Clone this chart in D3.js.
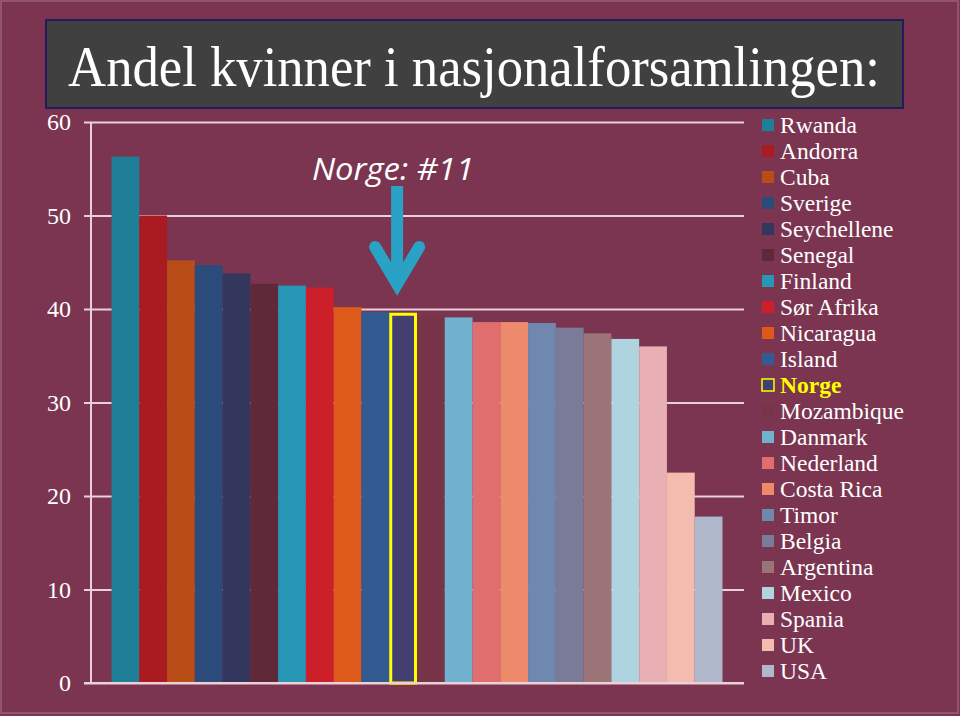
<!DOCTYPE html>
<html>
<head>
<meta charset="utf-8">
<script src="https://cdn.jsdelivr.net/npm/d3@7"></script>
<style>
  html, body { margin: 0; padding: 0; background: #7b3550; }
  svg { display: block; }
</style>
</head>
<body>
<svg id="chart" width="960" height="716"></svg>
<script>
const countries = ["Rwanda","Andorra","Cuba","Sverige","Seychellene","Senegal","Finland","Sør Afrika","Nicaragua","Island","Norge","Mozambique","Danmark","Nederland","Costa Rica","Timor","Belgia","Argentina","Mexico","Spania","UK","USA"];
const values = [56.3,50.0,45.2,44.7,43.8,42.7,42.5,42.3,40.2,39.7,39.6,39.2,39.1,38.6,38.6,38.5,38.0,37.4,36.8,36.0,22.5,17.8];
const colors = ["#1f7f96","#aa1a21","#b84d17","#2b4b7a","#33375d","#5e2a3a","#2896b5","#cc1f2a","#dd5a1a","#335b91","#433f70","#783449","#70b2cd","#e06e6e","#ee8a6c","#7088b0","#7a7b99","#9b7478","#afd3df","#e8b0b2","#f3bcae","#b0b9cc"];
const yTicks = [0,10,20,30,40,50,60];
const highlight = "Norge";
const titleText = "Andel kvinner i nasjonalforsamlingen:";
const noteText = "Norge: #11";

const svg = d3.select("#chart");
const W = 960, H = 716;

svg.append("rect").attr("x",0).attr("y",0).attr("width",W).attr("height",H)
  .attr("fill","#7b3550");
svg.append("rect").attr("x",1).attr("y",1).attr("width",W-3).attr("height",H-4)
  .attr("fill","none").attr("stroke","#9a6078").attr("stroke-width",1.5);

// Title box
svg.append("rect").attr("x",46).attr("y",20).attr("width",857).attr("height",88)
  .attr("fill","#404040").attr("stroke","#241a5e").attr("stroke-width",2);
const title = svg.append("text").attr("x",0).attr("y",0).attr("text-anchor","middle")
  .attr("font-family","'Liberation Serif','Times New Roman',serif")
  .attr("font-size",58).attr("fill","#ffffff")
  .text(titleText);
const natW = title.node().getComputedTextLength();
const sx = Math.min(1, 812 / natW);
title.attr("transform",`translate(474,86) scale(${sx},1)`);

// Scales
const plotLeft = 91, plotRight = 744;
const y = d3.scaleLinear().domain([0,60]).range([683,122]);
const x = d3.scaleBand().domain(countries).range([90,744]).paddingInner(0).paddingOuter(0.775);

// Gridlines + tick labels
const gAxis = svg.append("g").attr("transform",`translate(${plotRight},0)`)
  .call(d3.axisLeft(y).tickValues(yTicks).tickSize(plotRight-84).tickPadding(13).tickFormat(d3.format("d")));
gAxis.select(".domain").remove();
gAxis.selectAll(".tick line").attr("stroke","#ecd0d8").attr("stroke-width",2);
gAxis.selectAll(".tick text").attr("fill","#ffffff")
  .attr("font-family","'Liberation Serif','Times New Roman',serif").attr("font-size",24);

// Bars
svg.append("g").selectAll("rect").data(countries).join("rect")
  .attr("x", d => x(d))
  .attr("y", (d,i) => y(values[i]))
  .attr("width", x.bandwidth())
  .attr("height", (d,i) => y(0) - y(values[i]))
  .attr("fill", (d,i) => colors[i]);

// Highlight outline
const hi = countries.indexOf(highlight);
svg.append("rect")
  .attr("x", x(highlight)+1.5).attr("y", y(values[hi])+1.5)
  .attr("width", x.bandwidth()-3).attr("height", y(0)-y(values[hi])-1.5)
  .attr("fill","none").attr("stroke","#ffff00").attr("stroke-width",3);

// Axis lines
svg.append("line").attr("x1",plotLeft).attr("x2",plotLeft).attr("y1",y(60)).attr("y2",y(0))
  .attr("stroke","#ecd0d8").attr("stroke-width",2);
svg.append("line").attr("x1",84).attr("x2",plotRight).attr("y1",y(0)).attr("y2",y(0))
  .attr("stroke","#ecd0d8").attr("stroke-width",2);

// Annotation
svg.append("text").attr("x",393).attr("y",180).attr("text-anchor","middle")
  .attr("font-family","'Open Sans',sans-serif").attr("font-style","italic")
  .attr("font-size",31).attr("fill","#ffffff")
  .attr("textLength",162).attr("lengthAdjust","spacingAndGlyphs")
  .text(noteText);
const ax = x(highlight) + x.bandwidth()/2 - 6;
svg.append("path")
  .attr("d",`M${ax},186 L${ax},280`)
  .attr("stroke","#2aa2c6").attr("stroke-width",12).attr("fill","none");
svg.append("path")
  .attr("d",`M${ax-22},247 L${ax},284 L${ax+22},247`)
  .attr("stroke","#2aa2c6").attr("stroke-width",12).attr("fill","none")
  .attr("stroke-linecap","round").attr("stroke-linejoin","miter");

// Legend
const lg = svg.append("g").attr("transform","translate(762,125)");
const items = lg.selectAll("g").data(countries).join("g")
  .attr("transform",(d,i)=>`translate(0,${i*26})`);
items.append("rect").attr("x",0).attr("y",-6).attr("width",12).attr("height",12)
  .attr("fill",(d,i)=>colors[i])
  .attr("stroke",d => d===highlight ? "#ffff00" : "none")
  .attr("stroke-width",1.5);
items.append("text").attr("x",18).attr("y",8)
  .attr("font-family","'Liberation Serif','Times New Roman',serif")
  .attr("font-size",23.5)
  .attr("font-weight",d => d===highlight ? "bold" : "normal")
  .attr("fill",d => d===highlight ? "#ffff00" : "#ffffff")
  .text(d=>d);
</script>
</body>
</html>
